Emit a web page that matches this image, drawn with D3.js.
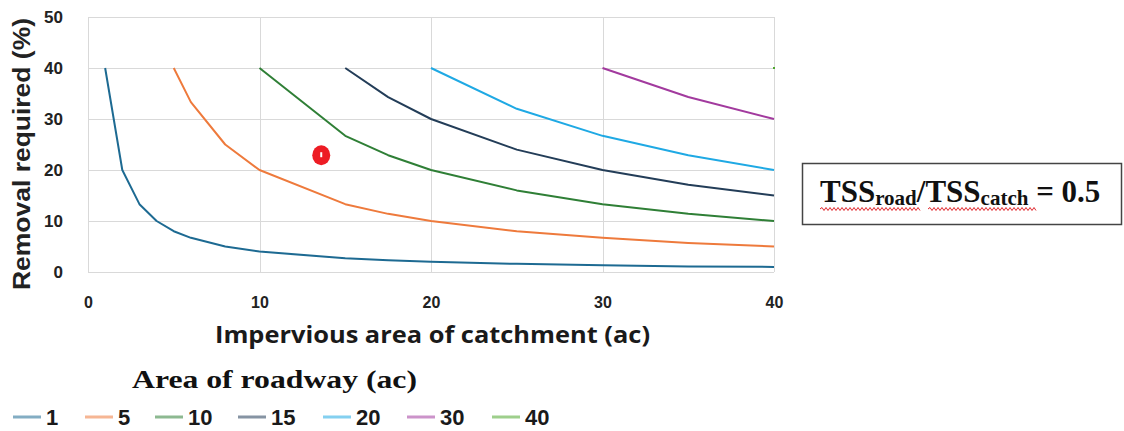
<!DOCTYPE html>
<html>
<head>
<meta charset="utf-8">
<script src="https://cdn.jsdelivr.net/npm/d3@7"></script>
<style>
  html, body { margin: 0; padding: 0; background: #fff; }
  svg { display: block; }
</style>
</head>
<body>
<svg id="chart" width="1124" height="431"></svg>
<script>
// Impervious catchment area (ac) at which each curve is sampled
const catchmentArea = [1, 2, 3, 4, 5, 6, 8, 10, 15, 17.5, 20, 25, 30, 35, 40];

// Removal required (%) for each roadway area (ac); null where the curve has no point
const road1  = [40, 20, 13.3, 10, 8, 6.7, 5, 4, 2.7, 2.3, 2, 1.6, 1.3, 1.1, 1];
const road5  = [null, null, null, null, 40, 33.3, 25, 20, 13.3, 11.4, 10, 8, 6.7, 5.7, 5];
const road10 = [null, null, null, null, null, null, null, 40, 26.7, 22.9, 20, 16, 13.3, 11.4, 10];
const road15 = [null, null, null, null, null, null, null, null, 40, 34.3, 30, 24, 20, 17.1, 15];
const road20 = [null, null, null, null, null, null, null, null, null, null, 40, 32, 26.7, 22.9, 20];
const road30 = [null, null, null, null, null, null, null, null, null, null, null, null, 40, 34.3, 30];
const road40 = [null, null, null, null, null, null, null, null, null, null, null, null, null, null, 40];

const seriesNames = ["1", "5", "10", "15", "20", "30", "40"];
const seriesValues = [road1, road5, road10, road15, road20, road30, road40];
const seriesColors = ["#1d6a92", "#ee7a3c", "#2f7f36", "#233d58", "#1fa9e4", "#a23a9e", "#4ea72e"];

const xTicks = [0, 10, 20, 30, 40];
const yTicks = [0, 10, 20, 30, 40, 50];

// Highlighted site
const sitePoint = { x: 13.6, y: 22.9 };

const svg = d3.select("#chart");

const x = d3.scaleLinear().domain([0, 40]).range([88, 774]);
const y = d3.scaleLinear().domain([0, 50]).range([272, 17]);

// Gridlines
const grid = svg.append("g").attr("stroke", "#d9d9d9").attr("stroke-width", 1);
grid.selectAll("line.h").data(yTicks).join("line")
  .attr("x1", x(0)).attr("x2", x(40))
  .attr("y1", d => Math.round(y(d)) + 0.5).attr("y2", d => Math.round(y(d)) + 0.5);
grid.selectAll("line.v").data(xTicks).join("line")
  .attr("y1", y(0)).attr("y2", y(50))
  .attr("x1", d => Math.round(x(d)) + 0.5).attr("x2", d => Math.round(x(d)) + 0.5);

// Axes (labels only, gridlines provide the frame)
const yAxis = d3.axisLeft(y).tickValues(yTicks).tickSize(0).tickPadding(0);
svg.append("g").attr("transform", "translate(63,0)").call(yAxis)
  .call(g => g.select(".domain").remove())
  .call(g => g.selectAll("text")
    .attr("font-family", "'Liberation Sans', Arial, sans-serif")
    .attr("font-weight", "bold").attr("font-size", 17).attr("fill", "#222"));

const xAxis = d3.axisBottom(x).tickValues(xTicks).tickSize(0).tickPadding(0);
svg.append("g").attr("transform", "translate(0,297)").call(xAxis)
  .call(g => g.select(".domain").remove())
  .call(g => g.selectAll("text")
    .attr("font-family", "'Liberation Sans', Arial, sans-serif")
    .attr("font-weight", "bold").attr("font-size", 16).attr("fill", "#222"));

// Axis titles
svg.append("text")
  .attr("transform", "translate(30,154) rotate(-90)")
  .attr("text-anchor", "middle")
  .attr("font-family", "'Liberation Sans', Arial, sans-serif")
  .attr("font-weight", "bold").attr("font-size", 23).attr("fill", "#222")
  .attr("textLength", 272).attr("lengthAdjust", "spacingAndGlyphs")
  .text("Removal required (%)");

svg.append("text")
  .attr("x", 215).attr("y", 343)
  .attr("font-family", "'Open Sans', 'Liberation Sans', sans-serif")
  .attr("font-weight", "bold").attr("font-size", 24).attr("fill", "#1a1a1a")
  .attr("textLength", 435).attr("lengthAdjust", "spacingAndGlyphs")
  .text("Impervious area of catchment (ac)");

// Curves
const line = d3.line()
  .defined(d => d.v != null)
  .x(d => x(d.a))
  .y(d => y(d.v));

seriesValues.forEach((vals, i) => {
  const pts = catchmentArea.map((a, j) => ({ a, v: vals[j] }));
  svg.append("path")
    .datum(pts)
    .attr("fill", "none")
    .attr("stroke", seriesColors[i])
    .attr("stroke-width", 2)
    .attr("stroke-linejoin", "round")
    .attr("d", line);
  // single-point series still shows a short stub at its only point
  const valid = pts.filter(d => d.v != null);
  if (valid.length === 1) {
    svg.append("line")
      .attr("x1", x(valid[0].a) - 1).attr("x2", x(valid[0].a) + 1)
      .attr("y1", y(valid[0].v)).attr("y2", y(valid[0].v))
      .attr("stroke", seriesColors[i]).attr("stroke-width", 2);
  }
});

// Site marker
svg.append("ellipse")
  .attr("cx", x(sitePoint.x)).attr("cy", y(sitePoint.y))
  .attr("rx", 9).attr("ry", 10)
  .attr("fill", "#ed1c24");
svg.append("rect")
  .attr("x", x(sitePoint.x) - 1).attr("y", y(sitePoint.y) - 3)
  .attr("width", 2).attr("height", 5)
  .attr("fill", "#fff");

// Legend title
svg.append("text")
  .attr("x", 132).attr("y", 388)
  .attr("font-family", "'Liberation Serif', 'Times New Roman', serif")
  .attr("font-weight", "bold").attr("font-size", 25).attr("fill", "#111")
  .attr("textLength", 285).attr("lengthAdjust", "spacingAndGlyphs")
  .text("Area of roadway (ac)");

// Legend entries
const legendX = [13, 85, 155, 238, 323, 407, 492];
const legend = svg.append("g");
seriesNames.forEach((name, i) => {
  const g = legend.append("g").attr("transform", `translate(${legendX[i]},417)`);
  g.append("line")
    .attr("x1", 0).attr("x2", 28).attr("y1", 0).attr("y2", 0)
    .attr("stroke", seriesColors[i]).attr("stroke-opacity", 0.55)
    .attr("stroke-width", 3);
  g.append("text")
    .attr("x", 33).attr("y", 8)
    .attr("font-family", "'Liberation Sans', Arial, sans-serif")
    .attr("font-weight", "bold").attr("font-size", 22).attr("fill", "#1a1a1a")
    .text(name);
});

// Ratio annotation box
svg.append("rect")
  .attr("x", 802.5).attr("y", 163.5).attr("width", 319).attr("height", 61)
  .attr("fill", "#fff").attr("stroke", "#444").attr("stroke-width", 1.5);

const note = svg.append("text")
  .attr("x", 820).attr("y", 202)
  .attr("font-family", "'Liberation Serif', 'Times New Roman', serif")
  .attr("font-weight", "bold").attr("fill", "#111");
note.append("tspan").attr("font-size", 31).text("TSS");
note.append("tspan").attr("font-size", 21).attr("dy", 3).text("road");
note.append("tspan").attr("font-size", 31).attr("dy", -3).text("/TSS");
note.append("tspan").attr("font-size", 21).attr("dy", 3).text("catch");
note.append("tspan").attr("font-size", 31).attr("dy", -3).text(" = 0.5");

// Wavy underline under the ratio terms
function squiggle(x0, x1, yy) {
  let d = `M${x0},${yy}`;
  let up = true;
  for (let xx = x0 + 2; xx <= x1; xx += 2) {
    d += ` L${xx},${yy + (up ? -1.5 : 1.5)}`;
    up = !up;
  }
  return d;
}
svg.append("path").attr("d", squiggle(820, 920, 209))
  .attr("fill", "none").attr("stroke", "#e0282e").attr("stroke-width", 1);
svg.append("path").attr("d", squiggle(928, 1037, 209))
  .attr("fill", "none").attr("stroke", "#e0282e").attr("stroke-width", 1);
</script>
</body>
</html>
